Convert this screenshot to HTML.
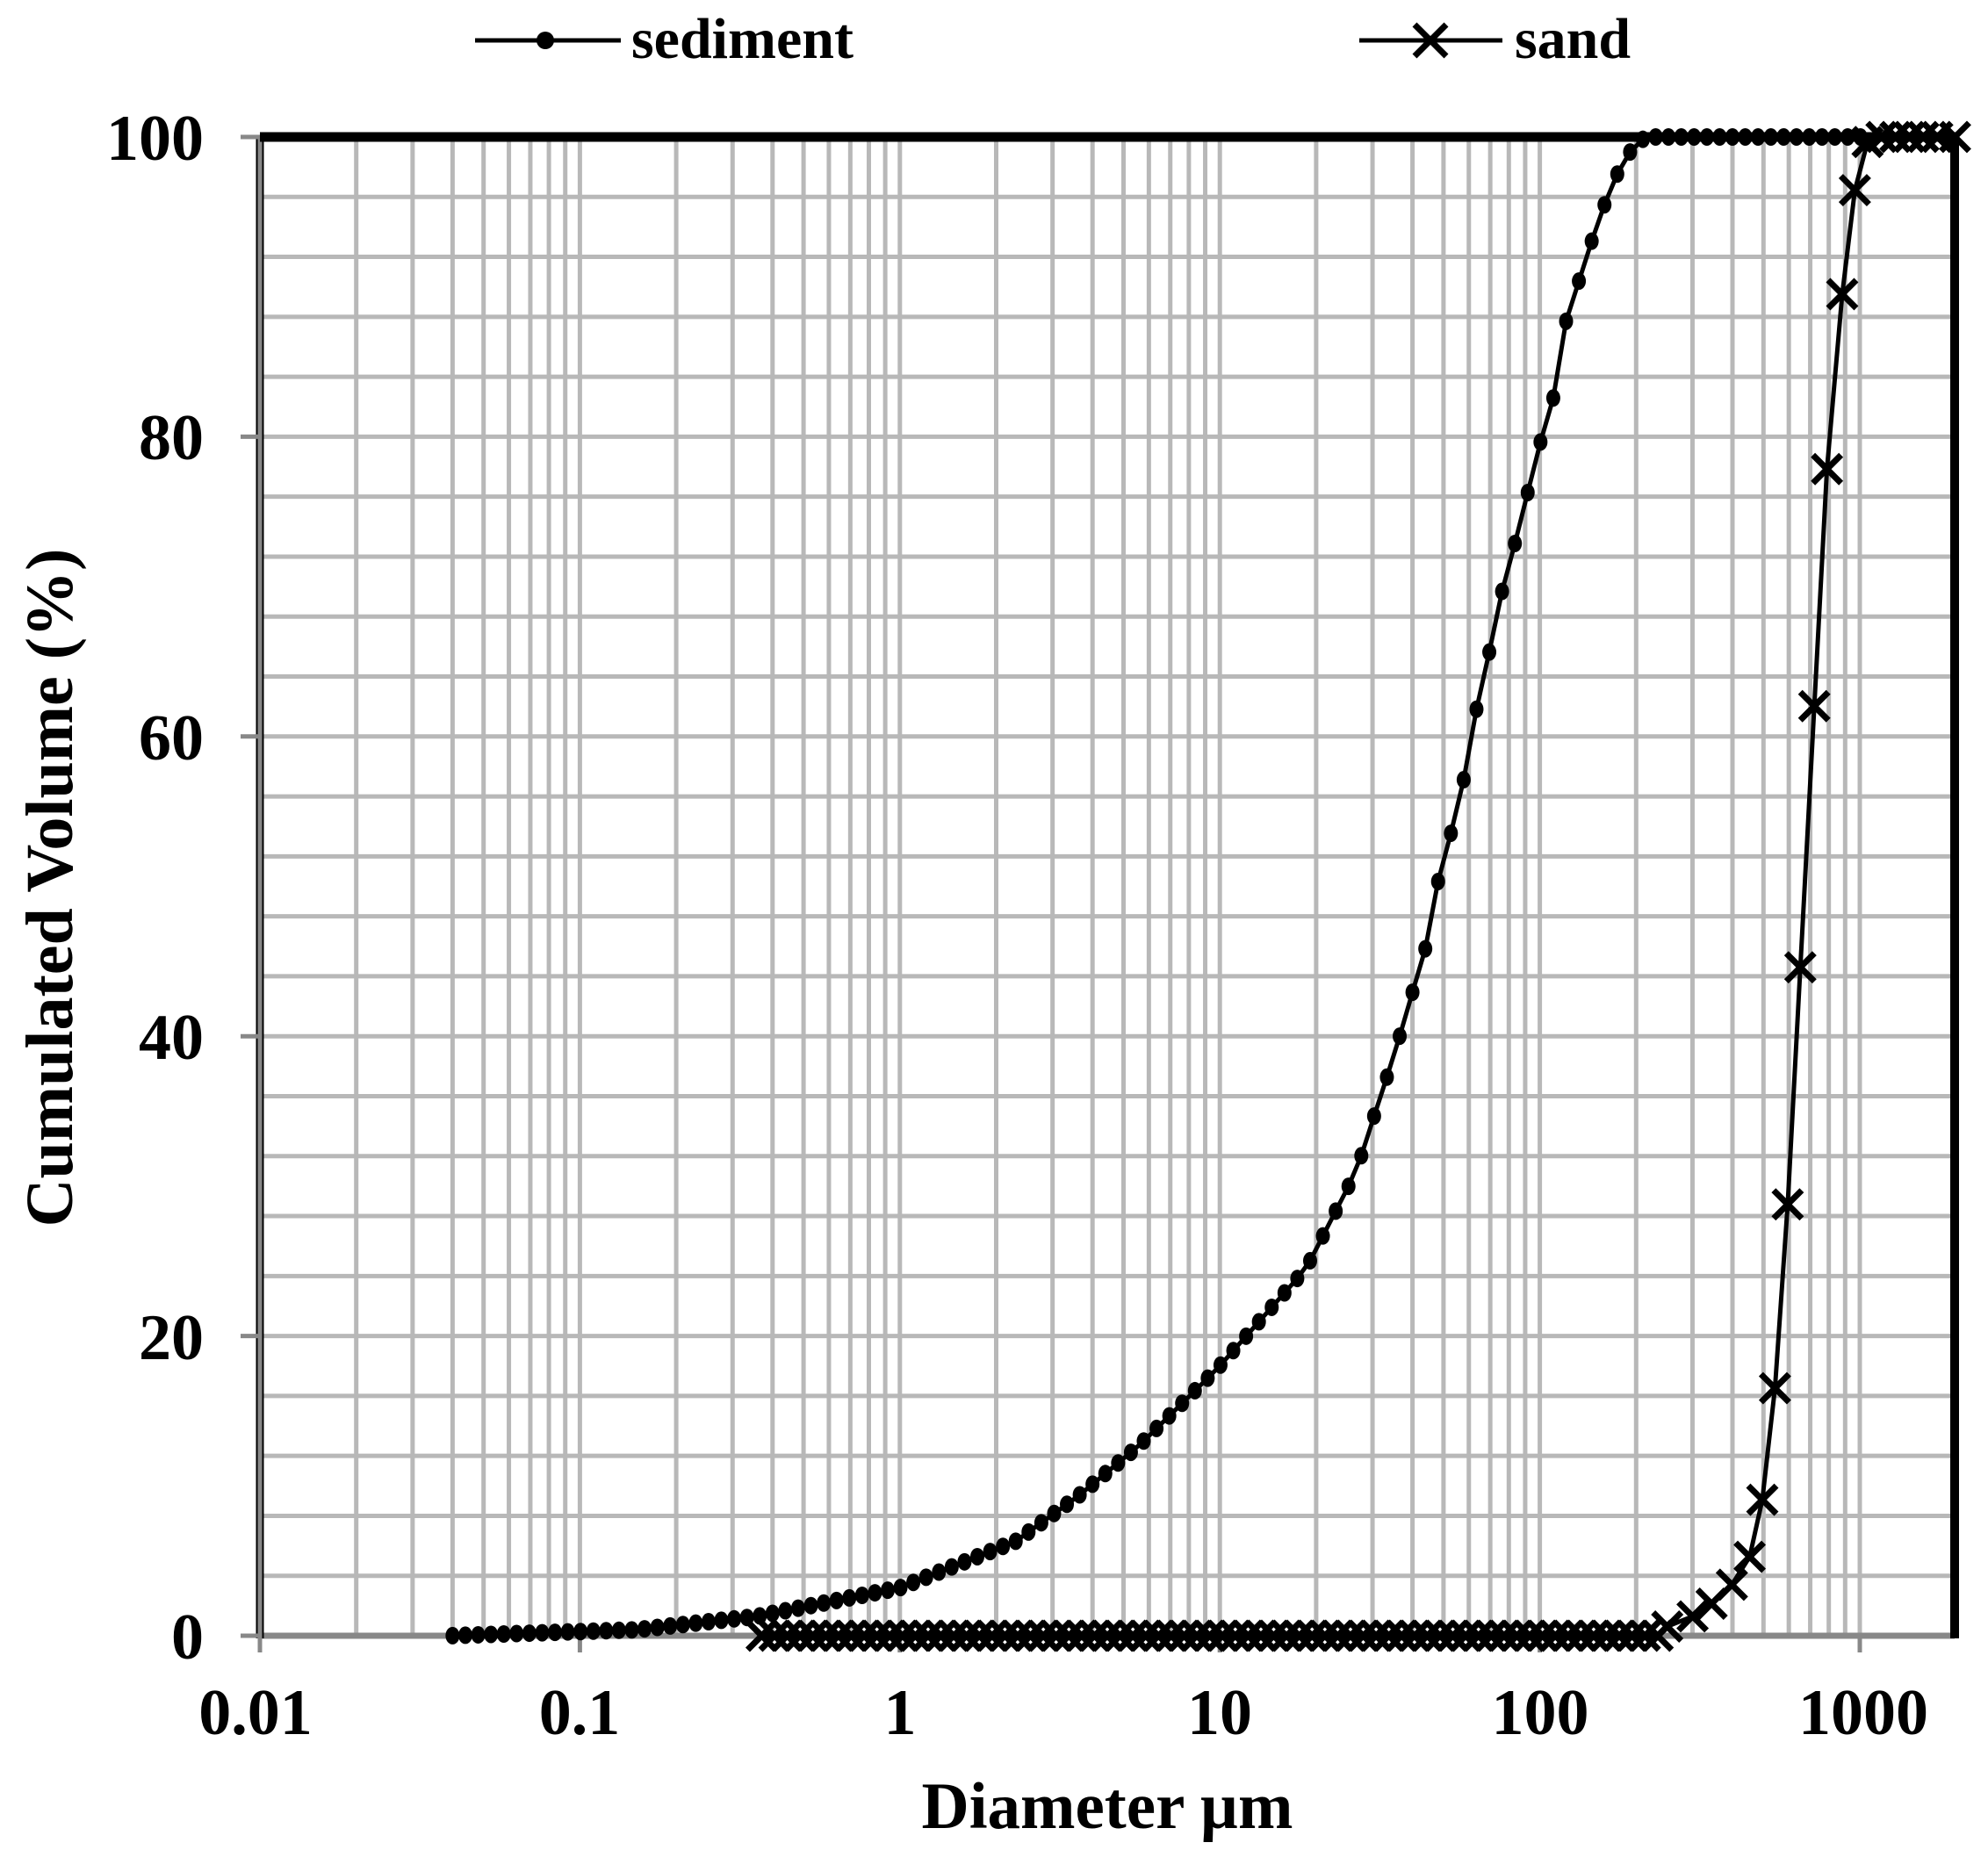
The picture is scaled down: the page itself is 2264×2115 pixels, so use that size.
<!DOCTYPE html>
<html><head><meta charset="utf-8">
<style>
html,body{margin:0;padding:0;background:#fff;}
svg{display:block;}
text{font-family:"Liberation Serif",serif;font-weight:bold;fill:#000;}
</style></head>
<body>
<svg id="s" width="2264" height="2115" xmlns="http://www.w3.org/2000/svg">
<g id="grid"></g>
<g id="axes"></g>
<g id="series"></g>
<g font-size="74">
<text x="232" y="182" text-anchor="end">100</text>
<text x="232" y="523" text-anchor="end">80</text>
<text x="232" y="865" text-anchor="end">60</text>
<text x="232" y="1206" text-anchor="end">40</text>
<text x="232" y="1548" text-anchor="end">20</text>
<text x="232" y="1889" text-anchor="end">0</text>
<text x="291" y="1975" text-anchor="middle">0.01</text>
<text x="660" y="1975" text-anchor="middle">0.1</text>
<text x="1025" y="1975" text-anchor="middle">1</text>
<text x="1389" y="1975" text-anchor="middle">10</text>
<text x="1754" y="1975" text-anchor="middle">100</text>
<text x="2122" y="1975" text-anchor="middle">1000</text>
</g>
<text x="1261" y="2082" text-anchor="middle" font-size="75">Diameter µm</text>
<text transform="translate(82,1011) rotate(-90)" text-anchor="middle" font-size="76">Cumulated Volume (%)</text>
<g>
<line x1="541" y1="46" x2="707" y2="46" stroke="#000" stroke-width="5"/>
<circle cx="621" cy="46" r="10" fill="#000"/>
<text x="719" y="66" font-size="66">sediment</text>
<line x1="1548" y1="46" x2="1711" y2="46" stroke="#000" stroke-width="5"/>
<path d="M1611 28 L1647 64 M1647 28 L1611 64" stroke="#000" stroke-width="7"/>
<text x="1725" y="66" font-size="66">sand</text>
</g>
</svg>
<script>
var NS="http://www.w3.org/2000/svg";
var L=296,R=2226,T=156,B=1863,DEC=364.4,K=2264/1568;
function X(d){return L+(Math.log10(d)+2)*DEC;}
function Y(v){return B-v*(B-T)/100;}
function el(p,n,a){var e=document.createElementNS(NS,n);for(var k in a)e.setAttribute(k,a[k]);p.appendChild(e);return e;}
var g=document.getElementById('grid');
for(var v=4;v<100;v+=4){el(g,'line',{x1:L,x2:R,y1:Y(v),y2:Y(v),stroke:'#b8b8b8','stroke-width':5});}
for(var e=-2;e<=3;e++){for(var m=1;m<=9;m++){var d=m*Math.pow(10,e);if(d>2000)break;var x=X(d);if(x<=L+2)continue;el(g,'line',{x1:x,x2:x,y1:T,y2:B,stroke:'#b8b8b8','stroke-width':5});}}
var a=document.getElementById('axes');
el(a,'line',{x1:L,x2:R,y1:B,y2:B,stroke:'#888','stroke-width':7});
el(a,'line',{x1:L,x2:L,y1:T,y2:B+3,stroke:'#000','stroke-width':9});
el(a,'line',{x1:L,x2:L,y1:T,y2:B,stroke:'#888','stroke-width':5});
el(a,'line',{x1:L,x2:R+3,y1:T,y2:T,stroke:'#000','stroke-width':11});
el(a,'line',{x1:R,x2:R,y1:T,y2:B+3,stroke:'#000','stroke-width':10});
for(var v=0;v<=100;v+=20){el(a,'line',{x1:274,x2:L,y1:Y(v),y2:Y(v),stroke:'#888','stroke-width':5});}
for(var e=-2;e<=3;e++){var x=X(Math.pow(10,e));el(a,'line',{x1:x,x2:x,y1:B,y2:1882,stroke:'#888','stroke-width':5});}
function interp(pts,d){var l=Math.log10(d);if(l<=Math.log10(pts[0][0]))return pts[0][1];
for(var i=1;i<pts.length;i++){var l0=Math.log10(pts[i-1][0]),l1=Math.log10(pts[i][0]);if(l<=l1){return pts[i-1][1]+(pts[i][1]-pts[i-1][1])*(l-l0)/(l1-l0);}}return pts[pts.length-1][1];}
var sed=[[0.039,0],[0.15,0.4],[0.36,1.3],[1,3.2],[2.3,6.3],[3.6,9.3],[5.6,12.7],[9.8,17.8],[18.6,24.5],[26.7,31],[32,36.2],[35.3,38.9],[38.6,41.9],[43.4,45.3],[47.5,49.9],[52,53],[57.8,57.1],[62.6,61.3],[69,65.3],[75.6,69.4],[83.4,72.8],[91.7,76.3],[100,79.5],[110,82.5],[121,87.8],[133,90.5],[146,93.2],[160,95.6],[176,97.7],[194,99.2],[214,100],[3000,100]];
var s=document.getElementById('series');
function draw(P,mk){
el(s,'polyline',{points:P.map(function(p){return p[0].toFixed(1)+','+p[1].toFixed(1)}).join(' '),fill:'none',stroke:'#000','stroke-width':5});
P.forEach(function(p){if(mk==='o'){el(s,'ellipse',{cx:p[0],cy:p[1],rx:8,ry:10,fill:'#000'});}else{var h=16;el(s,'path',{d:'M'+(p[0]-h)+' '+(p[1]-h)+' L'+(p[0]+h)+' '+(p[1]+h)+' M'+(p[0]+h)+' '+(p[1]-h)+' L'+(p[0]-h)+' '+(p[1]+h),stroke:'#000','stroke-width':7,fill:'none'});}});}
var P=[];for(var l=Math.log10(0.04);l<=Math.log10(1100)+1e-9;l+=0.04){var d=Math.pow(10,l);P.push([X(d),Y(interp(sed,d))]);}
draw(P,'o');
// sand
var Q=[];for(var l=Math.log10(0.37);l<=Math.log10(235);l+=0.04){Q.push([X(Math.pow(10,l)),B]);}
var disp=[[1315,1283],[1335,1275],[1350,1265],[1366,1250],[1380,1228],[1390,1183],[1400,1095],[1410,950],[1420,763],[1431,557],[1441,370],[1453,232],[1463,150],[1473,112],[1484,108],[1495,108],[1506,108],[1517,108],[1528,108],[1542,108]];
disp.forEach(function(p){Q.push([p[0]*K,p[1]*K]);});
draw(Q,'x');
</script>
</body></html>
